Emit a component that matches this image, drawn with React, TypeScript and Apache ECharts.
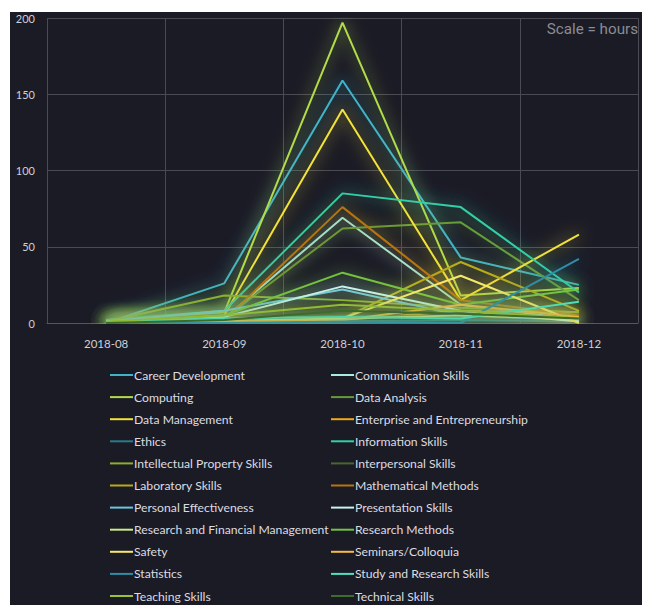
import React, { useEffect, useRef } from "react";
import * as echarts from "echarts";

const months = ["2018-08", "2018-09", "2018-10", "2018-11", "2018-12"];
const yTicks = { min: 0, max: 200, interval: 50 };

const seriesNames = [
  "Career Development",
  "Communication Skills",
  "Computing",
  "Data Analysis",
  "Data Management",
  "Enterprise and Entrepreneurship",
  "Ethics",
  "Information Skills",
  "Intellectual Property Skills",
  "Interpersonal Skills",
  "Laboratory Skills",
  "Mathematical Methods",
  "Personal Effectiveness",
  "Presentation Skills",
  "Research and Financial Management",
  "Research Methods",
  "Safety",
  "Seminars/Colloquia",
  "Statistics",
  "Study and Research Skills",
  "Teaching Skills",
  "Technical Skills",
];

const seriesColors = [
  "#3fb3c8",
  "#a6ece0",
  "#b3dc48",
  "#6a9a38",
  "#f2e23a",
  "#f2a81c",
  "#2a7c86",
  "#33d0a6",
  "#8cb02c",
  "#4a682e",
  "#b8aa18",
  "#b8740e",
  "#6cc4de",
  "#c8f4ee",
  "#cbe88a",
  "#74c240",
  "#f4e868",
  "#f4bc44",
  "#2e8ea6",
  "#4ee0bf",
  "#98c238",
  "#3e6c2a",
];

const careerDevelopment = [0, 26, 159, 43, 25];
const communicationSkills = [1, 3, 69, 12, 2];
const computing = [2, 7, 197, 18, 23];
const dataAnalysis = [0, 3, 62, 66, 15];
const dataManagement = [0, 5, 140, 15, 58];
const enterprise = [0, 1, 2, 8, 7];
const ethics = [0, 0, 1, 2, 1];
const informationSkills = [2, 8, 85, 76, 20];
const intellectualProperty = [1, 18, 15, 10, 7];
const interpersonal = [0, 2, 5, 4, 2];
const laboratory = [0, 0, 3, 40, 8];
const mathematical = [0, 2, 76, 15, 5];
const personalEffectiveness = [1, 8, 22, 5, 2];
const presentation = [1, 4, 24, 8, 1];
const researchFinancial = [0, 1, 3, 5, 3];
const researchMethods = [0, 5, 33, 12, 22];
const safety = [0, 1, 3, 31, 0];
const seminars = [0, 1, 2, 12, 4];
const statistics = [0, 0, 1, 0, 42];
const studyResearch = [1, 3, 4, 3, 14];
const teaching = [1, 5, 12, 8, 3];
const technical = [0, 2, 8, 6, 3];

const seriesValues = [
  careerDevelopment,
  communicationSkills,
  computing,
  dataAnalysis,
  dataManagement,
  enterprise,
  ethics,
  informationSkills,
  intellectualProperty,
  interpersonal,
  laboratory,
  mathematical,
  personalEffectiveness,
  presentation,
  researchFinancial,
  researchMethods,
  safety,
  seminars,
  statistics,
  studyResearch,
  teaching,
  technical,
];

const FONT = "Lato, 'Noto Sans', sans-serif";

export default function App() {
  const ref = useRef<HTMLDivElement>(null);
  useEffect(() => {
    if (!ref.current) return;
    const chart = echarts.init(ref.current, null, { renderer: "svg" });
    const leftNames = seriesNames.filter((_, i) => i % 2 === 0);
    const rightNames = seriesNames.filter((_, i) => i % 2 === 1);
    const legendCommon = {
      orient: "vertical" as const,
      top: 357,
      itemWidth: 23,
      itemHeight: 14,
      itemGap: 10.1,
      padding: 0,
      icon: "path://M0,6H23V8H0Z",
      textStyle: {
        color: "#dcdce0",
        fontSize: 12.2,
        fontFamily: FONT,
        padding: [0, 0, 0, -4],
      },
      lineStyle: { shadowBlur: 0, width: 2 },
      itemStyle: { shadowBlur: 0 },
    };
    chart.setOption({
      animation: false,
      backgroundColor: "#1b1b26",
      color: seriesColors,
      title: {
        text: "Scale = hours",
        right: 5,
        top: 9,
        padding: 0,
        textStyle: {
          color: "#8c8c92",
          fontSize: 15.2,
          fontWeight: "normal",
          fontFamily: "Roboto, sans-serif",
        },
      },
      legend: [
        { ...legendCommon, left: 100, data: leftNames },
        { ...legendCommon, left: 321, data: rightNames },
      ],
      grid: { left: 37, right: 5, top: 6, bottom: 282 },
      xAxis: {
        type: "category",
        data: months,
        boundaryGap: true,
        axisLine: { show: true, lineStyle: { color: "#55555e" } },
        axisTick: { show: false },
        axisLabel: { color: "#cfcfd4", fontSize: 11.5, fontFamily: FONT, margin: 14 },
        splitLine: { show: true, lineStyle: { color: "#4a4a54", width: 1 } },
      },
      yAxis: {
        type: "value",
        min: yTicks.min,
        max: yTicks.max,
        interval: yTicks.interval,
        axisLine: { show: false },
        axisTick: { show: false },
        axisLabel: { color: "#cfcfd4", fontSize: 11, fontFamily: FONT, margin: 12 },
        splitLine: { show: true, lineStyle: { color: "#4a4a54", width: 1 } },
      },
      series: seriesNames.map((name, i) => ({
        name,
        type: "line",
        data: seriesValues[i],
        symbol: "none",
        lineStyle: {
          width: 2,
          color: seriesColors[i],
          shadowBlur: 16,
          shadowColor: seriesColors[i],
        },
        itemStyle: { color: seriesColors[i] },
      })),
    });
    return () => chart.dispose();
  }, []);
  return (
    <div style={{ width: 642, height: 597, position: "relative" }}>
      <div
        style={{
          position: "absolute",
          left: 635,
          top: 4,
          width: 7,
          height: 593,
          background: "#3a3a44",
        }}
      />
      <div
        ref={ref}
        style={{ position: "absolute", left: 2, top: 4, width: 633, height: 593 }}
      />
    </div>
  );
}
